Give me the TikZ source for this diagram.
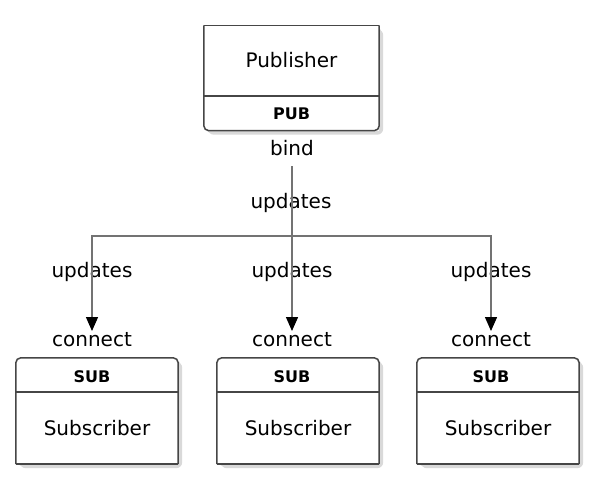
\documentclass[tikz,border=0pt]{standalone}
\usepackage{fontspec}
\setmainfont{DejaVu Sans}
\usetikzlibrary{arrows.meta,positioning,calc}
\definecolor{boxedge}{RGB}{70,70,70}
\definecolor{wiregray}{RGB}{115,115,115}

\begin{document}
\begin{tikzpicture}[
    x=1pt, y=-1pt,
    lbl/.style={inner sep=0pt, font=\fontsize{20}{22}\selectfont},
    port/.style={inner sep=0pt, font=\bfseries\fontsize{16}{18}\selectfont},
    area/.style={rectangle, inner sep=0pt, minimum width=162pt, minimum height=106pt},
    edge/.style={draw=boxedge, line width=1.5pt},
    shade/.style={fill=black!15},
    wire/.style={draw=wiregray, line width=1.4pt},
    tip/.style={-{Triangle[length=14pt, width=12pt, color=black]}}
]
    \fill[white] (0,0) rectangle (595,482);
    \useasboundingbox (0,0) rectangle (595,482);

    % publisher
    \node[area, minimum width=175pt, minimum height=105pt] (pub) at (291.5,78) {};
    \fill[shade, rounded corners=6pt] ([shift={(4,4)}]pub.north west) rectangle ([shift={(4,4)}]pub.south east);
    \fill[shade, rounded corners=5pt] ([shift={(2.5,2.5)}]pub.north west) rectangle ([shift={(2.5,2.5)}]pub.south east);
    \fill[white] (pub.north west) rectangle (pub.south east);
    \draw[edge, rounded corners=5pt] (pub.north west) -- (pub.south west) -- (pub.south east) -- (pub.north east);
    \draw[edge] (pub.north west) -- (pub.north east);
    \draw[edge] (204,96) -- (379,96);
    \node[lbl] (pubname) at (291.5,60) {Publisher};
    \node[port] (pubport) at (291.5,114) {PUB};
    \node[lbl] (bind) at (292,148.5) {bind};
    \node[lbl] (updmain) at (291,202.5) {updates};
    \coordinate (src) at (292,166);
    \coordinate (fork) at (292,236);

    % subscribers
    \foreach \i/\bx/\px in {1/97/92, 2/298/292, 3/498/491} {
        \node[area] (sub\i) at (\bx,411) {};
        \fill[shade, rounded corners=6pt] ([shift={(4,4)}]sub\i.north west) rectangle ([shift={(4,4)}]sub\i.south east);
        \fill[shade, rounded corners=5pt] ([shift={(2.5,2.5)}]sub\i.north west) rectangle ([shift={(2.5,2.5)}]sub\i.south east);
        \fill[white] (sub\i.north west) rectangle (sub\i.south east);
        \draw[edge, rounded corners=5pt] (sub\i.south west) -- (sub\i.north west) -- (sub\i.north east) -- (sub\i.south east);
        \draw[edge] (sub\i.south west) -- (sub\i.south east);
        \draw[edge] ({\bx-81},392) -- ({\bx+81},392);
        \node[port] (subport\i) at (\px,377) {SUB};
        \node[lbl] (subname\i) at (\bx,428.5) {Subscriber};
        \node[lbl] (conn\i) at (\px,340) {connect};
        \node[lbl] (upd\i) at (\px,272) {updates};
        \coordinate (in\i) at (\px,331);
    }

    \draw[wire, tip] (src) -- (fork) -| (in1);
    \draw[wire, tip] (src) -- (in2);
    \draw[wire, tip] (src) -- (fork) -| (in3);
\end{tikzpicture}
\end{document}
